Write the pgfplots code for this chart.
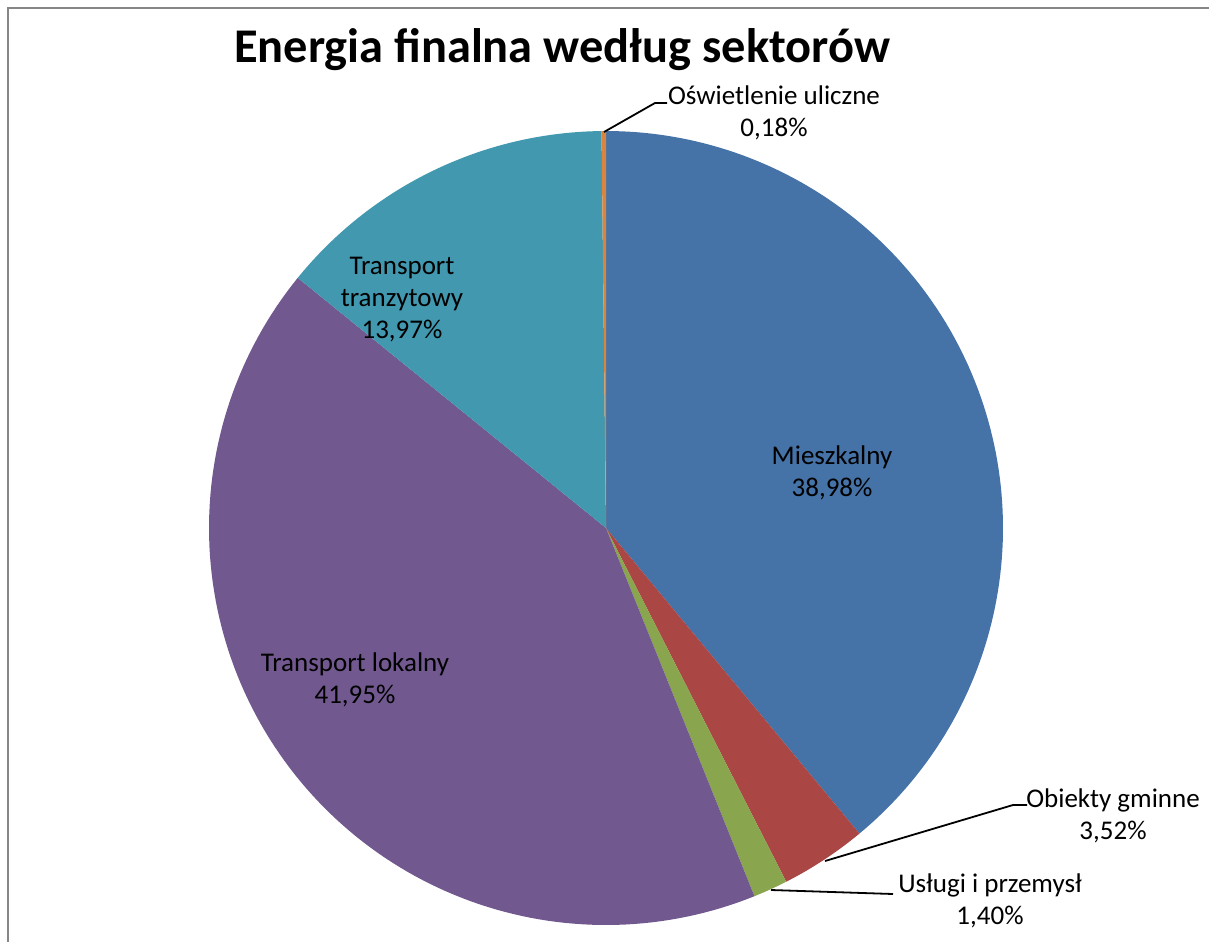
\documentclass[border=0pt]{standalone}
\usepackage{pgfplots}
\pgfplotsset{compat=1.18}
\usepackage{fontspec}
\setmainfont{Carlito}
\definecolor{cMies}{HTML}{4572A7}
\definecolor{cObi}{HTML}{AA4643}
\definecolor{cUsl}{HTML}{89A54E}
\definecolor{cTL}{HTML}{71588F}
\definecolor{cTT}{HTML}{4198AF}
\definecolor{cOsw}{HTML}{DB843D}
\definecolor{cBorder}{HTML}{868686}
% shares in percent
\def\pMies{38.98}
\def\pObi{3.52}
\def\pUsl{1.40}
\def\pTL{41.95}
\def\pTT{13.97}
\def\pOsw{0.18}
\begin{document}
\begin{tikzpicture}
\useasboundingbox (0,0) rectangle (604.5pt,471pt);
\begin{axis}[at={(0,0)}, anchor=south west, scale only axis,
  width=604.5pt, height=471pt, xmin=0, xmax=1209, ymin=0, ymax=942,
  y dir=reverse, hide axis, clip=false, variable=\t]
% chart border
\addplot[draw=cBorder, line width=1pt] coordinates {(7.5,942) (7.5,7.5) (1209,7.5)};
% slices (clockwise from 12 o'clock)
\addplot[fill=cMies, draw=none, domain={90-3.6*\pMies}:90, samples=120]
  ({606+397*cos(t)}, {528-397*sin(t)}) -- (axis cs:606,528) -- cycle;
\addplot[fill=cObi, draw=none, domain={90-3.6*(\pMies+\pObi)}:{90-3.6*\pMies}, samples=20]
  ({606+397*cos(t)}, {528-397*sin(t)}) -- (axis cs:606,528) -- cycle;
\addplot[fill=cUsl, draw=none, domain={90-3.6*(\pMies+\pObi+\pUsl)}:{90-3.6*(\pMies+\pObi)}, samples=10]
  ({606+397*cos(t)}, {528-397*sin(t)}) -- (axis cs:606,528) -- cycle;
\addplot[fill=cTL, draw=none, domain={90-3.6*(\pMies+\pObi+\pUsl+\pTL)}:{90-3.6*(\pMies+\pObi+\pUsl)}, samples=120]
  ({606+397*cos(t)}, {528-397*sin(t)}) -- (axis cs:606,528) -- cycle;
\addplot[fill=cTT, draw=none, domain={90-3.6*(\pMies+\pObi+\pUsl+\pTL+\pTT)}:{90-3.6*(\pMies+\pObi+\pUsl+\pTL)}, samples=50]
  ({606+397*cos(t)}, {528-397*sin(t)}) -- (axis cs:606,528) -- cycle;
\addplot[fill=cOsw, draw=none, domain={90-3.6*(\pMies+\pObi+\pUsl+\pTL+\pTT+\pOsw)}:{90-3.6*(\pMies+\pObi+\pUsl+\pTL+\pTT)}, samples=4]
  ({606+397*cos(t)}, {528-397*sin(t)}) -- (axis cs:606,528) -- cycle;
% leader lines
\addplot[black, line width=0.9pt] coordinates {(604,132) (655,103) (667,103)};
\addplot[black, line width=0.9pt] coordinates {(825,861) (1013,805) (1027,805)};
\addplot[black, line width=0.9pt] coordinates {(771,890) (893,894)};
% title and labels
\node[font=\bfseries\fontsize{24.2}{29}\selectfont] at (axis cs:562,50) {Energia finalna według sektorów};
\tikzset{lab/.style={font=\fontsize{13.5}{16}\selectfont, align=center, inner sep=0pt}}
\node[lab] at (axis cs:832,473) {Mieszkalny\\38,98\%};
\node[lab] at (axis cs:402,300) {Transport\\tranzytowy\\13,97\%};
\node[lab] at (axis cs:355,680) {Transport lokalny\\41,95\%};
\node[lab] at (axis cs:774,113) {Oświetlenie uliczne\\0,18\%};
\node[lab] at (axis cs:1113,816) {Obiekty gminne\\3,52\%};
\node[lab] at (axis cs:990,901) {Usługi i przemysł\\1,40\%};
\end{axis}
\end{tikzpicture}
\end{document}
